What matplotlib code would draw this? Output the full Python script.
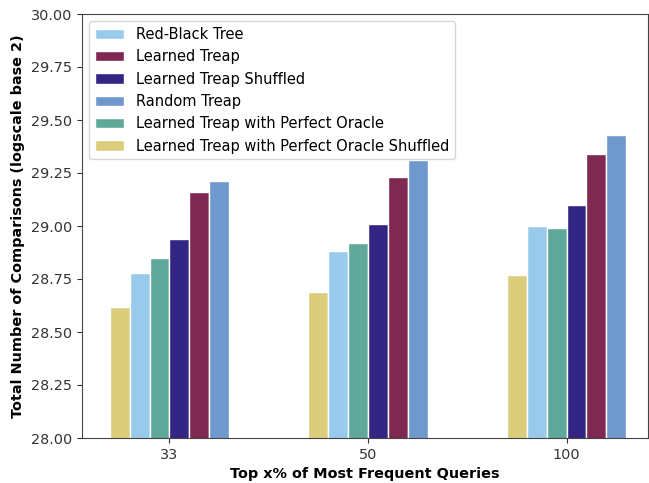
import matplotlib.pyplot as plt
import numpy as np

# x categories (top x% of most frequent queries)
categories = ["33", "50", "100"]

# series values, in drawing order inside each group (left to right)
rb_tree = [28.78, 28.88, 29.00]
learned = [29.16, 29.23, 29.34]
learned_shuffled = [28.94, 29.01, 29.10]
random_treap = [29.21, 29.31, 29.43]
oracle = [28.85, 28.92, 28.99]
oracle_shuffled = [28.62, 28.69, 28.77]

series = [
    ("Learned Treap with Perfect Oracle Shuffled", oracle_shuffled, "#DCCD7D"),
    ("Red-Black Tree", rb_tree, "#98CBEB"),
    ("Learned Treap with Perfect Oracle", oracle, "#5FA89A"),
    ("Learned Treap Shuffled", learned_shuffled, "#332584"),
    ("Learned Treap", learned, "#7E2852"),
    ("Random Treap", random_treap, "#6F99CC"),
]
legend_order = [
    "Red-Black Tree",
    "Learned Treap",
    "Learned Treap Shuffled",
    "Random Treap",
    "Learned Treap with Perfect Oracle",
    "Learned Treap with Perfect Oracle Shuffled",
]

fig = plt.figure(figsize=(6.49, 4.83), dpi=100)
ax = fig.add_axes([82 / 649, 1 - 438 / 483, 566 / 649, 424 / 483])

x = np.arange(len(categories))
width = 0.1
handles = {}
for i, (name, vals, color) in enumerate(series):
    offset = (i - (len(series) - 1) / 2) * width
    bars = ax.bar(x + offset, vals, width, color=color, edgecolor="white",
                  linewidth=1, label=name)
    handles[name] = bars

ax.set_ylim(28.0, 30.0)
yt = np.arange(28.0, 30.01, 0.25)
ax.set_yticks(yt)
ax.set_yticklabels([f"{v:.2f}" for v in yt])
ax.set_xlim(-0.44, 2.41)
ax.set_xticks(x)
ax.set_xticklabels(categories)
ax.tick_params(labelsize=10.4, colors="#333333", labelcolor="#333333")
for spine in ax.spines.values():
    spine.set_color("#444444")

ax.set_xlabel("Top x% of Most Frequent Queries", fontsize=10.4,
              fontweight="bold")
ax.set_ylabel("Total Number of Comparisons (logscale base 2)", fontsize=10.4,
              fontweight="bold")

ax.legend([handles[n] for n in legend_order], legend_order, loc="upper left",
          fontsize=10.5, framealpha=0.8, edgecolor="#cccccc")

fig.savefig("out.png", dpi=100)
